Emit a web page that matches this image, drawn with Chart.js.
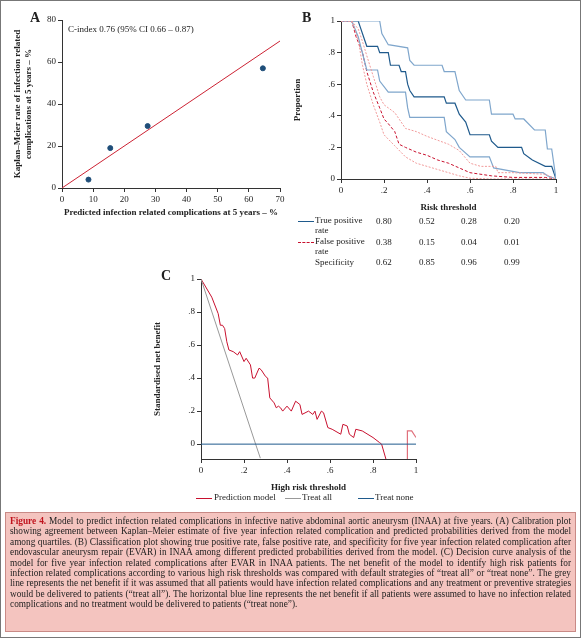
<!DOCTYPE html>
<html><head><meta charset="utf-8">
<script src="https://cdn.jsdelivr.net/npm/chart.js@4/dist/chart.umd.min.js"></script>
<style>
body{margin:0;width:581px;height:638px;position:relative;background:#fff;font-family:"Liberation Serif","DejaVu Serif",serif;color:#222;overflow:hidden}
#frame{position:absolute;left:0;top:0;width:579px;height:636px;border:1px solid #777}
canvas{position:absolute}
.t{position:absolute;font-size:9px;white-space:nowrap}
.lbl{position:absolute;font-size:14px;font-weight:bold}
.sw{position:absolute;height:0;width:16px}
#cap{position:absolute;left:5px;top:512px;width:561px;height:113px;padding:3px 4px 2px;background:#f4c4bf;border:1px solid #c98a86;font-size:9.3px;line-height:10.4px;text-align:justify}
#cap b{color:#c0141e}
</style></head><body>
<div id="frame"></div>
<canvas id="cA" style="left:10px;top:5px" width="280" height="215"></canvas>
<canvas id="cB" style="left:290px;top:5px" width="285" height="210"></canvas>
<canvas id="cC" style="left:150px;top:265px" width="280" height="230"></canvas>
<div class="lbl" style="left:30px;top:10px">A</div>
<div class="lbl" style="left:302px;top:10px">B</div>
<div class="lbl" style="left:161px;top:268px">C</div>

<div class="sw" style="left:298px;top:221px;border-top:1px solid #1f5a8c"></div>
<div class="t" style="left:315px;top:215px;line-height:10px">True positive<br>rate</div>
<div class="sw" style="left:298px;top:242px;border-top:1px dashed #c8102e"></div>
<div class="t" style="left:315px;top:236px;line-height:10px">False positive<br>rate</div>
<div class="t" style="left:315px;top:257px">Specificity</div>
<div id="tbl"></div>

<div class="sw" style="left:196px;top:498px;border-top:1px solid #c8102e"></div>
<div class="t" style="left:214px;top:492px">Prediction model</div>
<div class="sw" style="left:285px;top:498px;border-top:1px solid #999"></div>
<div class="t" style="left:302px;top:492px">Treat all</div>
<div class="sw" style="left:358px;top:498px;border-top:1px solid #1f5a8c"></div>
<div class="t" style="left:375px;top:492px">Treat none</div>

<div id="cap"><b>Figure 4.</b> Model to predict infection related complications in infective native abdominal aortic aneurysm (INAA) at five years. (A) Calibration plot showing agreement between Kaplan–Meier estimate of five year infection related complication and predicted probabilities derived from the model among quartiles. (B) Classification plot showing true positive rate, false positive rate, and specificity for five year infection related complication after endovascular aneurysm repair (EVAR) in INAA among different predicted probabilities derived from the model. (C) Decision curve analysis of the model for five year infection related complications after EVAR in INAA patients. The net benefit of the model to identify high risk patients for infection related complications according to various high risk thresholds was compared with default strategies of “treat all” or “treat none”. The grey line represents the net benefit if it was assumed that all patients would have infection related complications and any treatment or preventive strategies would be delivered to patients (“treat all”). The horizontal blue line represents the net benefit if all patients were assumed to have no infection related complications and no treatment would be delivered to patients (“treat none”).</div>

<script>
// Panel A: calibration
const calPred = [8.5, 15.5, 27.5, 64.5];
const calKM = [4, 19, 29.5, 57];
const diagX = [0, 70];

// Panel B: classification (step curves)
const tprX = [0,0.05,0.08,0.09,0.12,0.17,0.18,0.22,0.23,0.27,0.28,0.30,0.31,0.32,0.34,0.48,0.49,0.53,0.55,0.58,0.6,0.69,0.7,0.73,0.84,0.85,0.89,0.95,0.98,1];
const tprY = [1,1,1,0.96,0.84,0.84,0.80,0.80,0.72,0.72,0.68,0.68,0.60,0.56,0.52,0.52,0.48,0.48,0.41,0.36,0.28,0.28,0.24,0.20,0.20,0.16,0.12,0.08,0.08,0];
const tprHiX = [0,0.18,0.19,0.22,0.31,0.32,0.34,0.47,0.48,0.53,0.55,0.58,0.69,0.7,0.8,0.81,0.85,0.9,0.95,0.96,0.98,1];
const tprHiY = [1,1,0.92,0.85,0.83,0.75,0.72,0.72,0.68,0.68,0.56,0.50,0.50,0.41,0.41,0.38,0.38,0.31,0.31,0.19,0.19,0];
const tprLoX = [0,0.05,0.08,0.12,0.17,0.18,0.22,0.30,0.31,0.32,0.48,0.49,0.53,0.55,0.6,0.69,0.71,0.83,0.94,0.96,1];
const tprLoY = [1,1,0.9,0.69,0.69,0.62,0.55,0.55,0.45,0.39,0.39,0.30,0.25,0.20,0.14,0.14,0.07,0.04,0.04,0.02,0];
const fprX = [0,0.05,0.07,0.1,0.12,0.15,0.18,0.2,0.22,0.25,0.27,0.3,0.35,0.4,0.45,0.5,0.55,0.6,0.7,0.8,0.95,1];
const fprY = [1,1,0.9,0.8,0.68,0.55,0.45,0.38,0.35,0.30,0.22,0.20,0.17,0.15,0.12,0.10,0.07,0.04,0.02,0.01,0.01,0];
const fprHiX = [0,0.05,0.08,0.1,0.12,0.15,0.18,0.2,0.25,0.3,0.35,0.4,0.5,0.55,0.6,0.65,0.72,0.73,0.8,0.95,1];
const fprHiY = [1,1,0.95,0.87,0.78,0.65,0.52,0.47,0.42,0.32,0.30,0.27,0.22,0.18,0.10,0.08,0.08,0.04,0.04,0.03,0];
const fprLoX = [0,0.05,0.08,0.1,0.12,0.15,0.18,0.2,0.25,0.3,0.35,0.4,0.45,0.5,0.55,0.6,0.7,1];
const fprLoY = [1,1,0.88,0.72,0.60,0.47,0.36,0.28,0.21,0.14,0.10,0.08,0.06,0.04,0.02,0.005,0,0];
const tblTPR = ['0.80', '0.52', '0.28', '0.20'];
const tblFPR = ['0.38', '0.15', '0.04', '0.01'];
const tblSpec = ['0.62', '0.85', '0.96', '0.99'];

// Panel C: decision curve
const dcaX = [0,0.05,0.08,0.09,0.1,0.11,0.12,0.13,0.15,0.17,0.18,0.2,0.21,0.23,0.24,0.25,0.27,0.28,0.3,0.31,0.32,0.34,0.35,0.36,0.37,0.38,0.4,0.42,0.44,0.46,0.47,0.5,0.52,0.53,0.54,0.56,0.57,0.59,0.61,0.65,0.66,0.68,0.69,0.71,0.72,0.75,0.8,0.83,0.84,0.86];
const dcaY = [1,0.89,0.79,0.72,0.72,0.70,0.62,0.57,0.56,0.54,0.56,0.50,0.52,0.48,0.40,0.40,0.46,0.45,0.41,0.40,0.28,0.25,0.22,0.23,0.22,0.20,0.23,0.20,0.26,0.24,0.18,0.20,0.18,0.20,0.15,0.20,0.19,0.10,0.09,0.06,0.12,0.11,0.06,0.04,0.09,0.08,0.04,0.01,0,-0.09];
const dcaTailX = [0.96, 0.96, 0.98, 1];
const dcaTailY = [-0.09, 0.08, 0.08, 0.04];
const allX = [0, 0.254, 0.276];
const allY = [1, 0, -0.085];
const noneX = [0, 1];
const noneY = [0, 0];

const FONT = {family: '"Liberation Serif", serif', size: 9};
Chart.defaults.font = FONT;
Chart.defaults.color = '#222';
const pts = (xs, ys) => xs.map((x, i) => ({x, y: ys[i]}));
function axis(min, max, step, fmt, title, fit, extra) {
  return Object.assign({
    type: 'linear', min, max,
    grid: {display: true, drawOnChartArea: false, tickLength: 4, color: '#333'},
    border: {color: '#333'},
    ticks: {stepSize: step, padding: 2, callback: fmt, font: FONT},
    title: {display: true, text: title, font: {family: FONT.family, size: 9, weight: 'bold'}, padding: 2},
    afterFit: fit
  }, extra || {});
}
const dec = v => v === 0 ? '0' : v === 1 ? '1' : String(Math.round(v * 10) / 10).replace(/^0/, '');
const base = {responsive: false, animation: false, plugins: {legend: {display: false}, tooltip: {enabled: false}}};

new Chart(document.getElementById('cA'), {
  type: 'scatter',
  data: {datasets: [
    {data: pts(diagX, diagX), showLine: true, borderColor: '#cc2233', borderWidth: 1, pointRadius: 0},
    {data: pts(calPred, calKM), backgroundColor: '#1f4e79', borderColor: '#1f4e79', pointRadius: 2.5}
  ]},
  options: Object.assign({}, base, {
    layout: {padding: {top: 15, right: 10}},
    scales: {
      x: axis(0, 70, 10, v => v, 'Predicted infection related complications at 5 years – %', s => { s.height = 32; }),
      y: axis(0, 80, 20, v => v, ['Kaplan–Meier rate of infection related', 'complications at 5 years – %'], s => { s.width = 52; })
    }
  }),
  plugins: [{id: 'ann', afterDraw(c) {
    const g = c.ctx; g.save(); g.font = '9px "Liberation Serif", serif'; g.fillStyle = '#222';
    g.fillText('C-index 0.76 (95% CI 0.66 – 0.87)', c.chartArea.left + 6, c.chartArea.top + 12); g.restore();
  }}]
});

const lineSet = (xs, ys, color, dash, w) => ({data: pts(xs, ys), showLine: true, borderColor: color, borderDash: dash, borderWidth: w, pointRadius: 0});
new Chart(document.getElementById('cB'), {
  type: 'scatter',
  data: {datasets: [
    lineSet(fprHiX, fprHiY, '#f19a9a', [2, 1.5], 1),
    lineSet(fprLoX, fprLoY, '#f19a9a', [2, 1.5], 1),
    lineSet(tprHiX, tprHiY, '#7fa6cc', [], 1.2),
    lineSet(tprLoX, tprLoY, '#7fa6cc', [], 1.2),
    lineSet(fprX, fprY, '#c8102e', [3, 2], 1),
    lineSet(tprX, tprY, '#1f5a8c', [], 1.2)
  ]},
  options: Object.assign({}, base, {
    layout: {padding: {top: 16, right: 19}},
    scales: {
      x: axis(0, 1, 0.2, dec, 'Risk threshold', s => { s.height = 36; }),
      y: axis(0, 1, 0.2, dec, 'Proportion', s => { s.width = 51; })
    }
  })
});
const colX = [376, 419, 461, 504];
let h = '';
[[tblTPR, 216], [tblFPR, 237], [tblSpec, 257]].forEach(([row, top]) => {
  row.forEach((v, i) => { h += `<div class="t" style="left:${colX[i]}px;top:${top}px">${v}</div>`; });
});
document.getElementById('tbl').innerHTML = h;

new Chart(document.getElementById('cC'), {
  type: 'scatter',
  data: {datasets: [
    lineSet(noneX, noneY, '#1f5a8c', [], 1),
    lineSet(allX, allY, '#999', [], 1),
    lineSet(dcaX, dcaY, '#c8102e', [], 1),
    lineSet(dcaTailX, dcaTailY, '#e0707c', [], 1.2)
  ]},
  options: Object.assign({}, base, {
    layout: {padding: {top: 14, right: 14}},
    scales: {
      x: axis(0, 1, 0.2, dec, 'High risk threshold', s => { s.height = 36; }),
      y: axis(-0.09, 1, 0.2, dec, 'Standardised net benefit', s => { s.width = 51; }, {
        afterBuildTicks: s => { s.ticks = [0, 0.2, 0.4, 0.6, 0.8, 1].map(v => ({value: v})); }
      })
    }
  })
});
</script>
</body></html>
